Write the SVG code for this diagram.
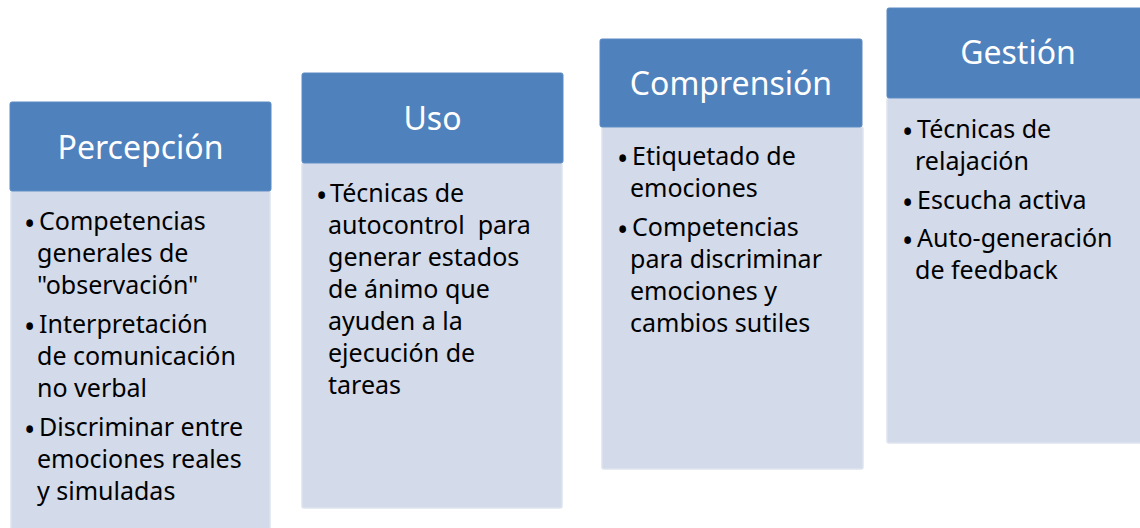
<svg xmlns="http://www.w3.org/2000/svg" width="1140" height="528" viewBox="0 0 1140 528">
<style>
.hdr{fill:#4F81BD;stroke:#5A8AC3;stroke-width:1}
.body{fill:#D3DAE9;stroke:#DEE3EE;stroke-width:1.5}
.ttl{font-family:"Noto Sans","Open Sans",sans-serif;font-size:32px;fill:#FFFFFF;text-anchor:middle}
.txt{font-family:"Noto Sans","Open Sans",sans-serif;font-size:25px;fill:#000000}
.b{font-size:30px}
</style>
<rect width="1140" height="528" fill="#FFFFFF"/>
<g id="percepcion">
<rect class="body" x="11" y="191" width="259" height="350" rx="2"/>
<rect class="hdr" x="10" y="102" width="261" height="89" rx="2"/>
<text class="ttl" x="140.5" y="159">Percepción</text>
<text class="txt" y="230"><tspan class="b" x="24" dy="5">•</tspan><tspan x="39" dy="-5">Competencias</tspan></text>
<text class="txt" x="37" y="262">generales de</text>
<text class="txt" x="37" y="294">"observación"</text>
<text class="txt" y="333"><tspan class="b" x="24" dy="5">•</tspan><tspan x="39" dy="-5">Interpretación</tspan></text>
<text class="txt" x="37" y="365">de comunicación</text>
<text class="txt" x="37" y="397">no verbal</text>
<text class="txt" y="436"><tspan class="b" x="24" dy="5">•</tspan><tspan x="39" dy="-5">Discriminar entre</tspan></text>
<text class="txt" x="37" y="468">emociones reales</text>
<text class="txt" x="37" y="500">y simuladas</text>
</g>
<g id="uso">
<rect class="body" x="302" y="163" width="260" height="345" rx="2"/>
<rect class="hdr" x="302" y="73" width="261" height="90" rx="2"/>
<text class="ttl" x="432.5" y="130">Uso</text>
<text class="txt" y="202"><tspan class="b" x="316" dy="5">•</tspan><tspan x="330" dy="-5">Técnicas de</tspan></text>
<text class="txt" x="328" y="234" xml:space="preserve">autocontrol  para</text>
<text class="txt" x="328" y="266">generar estados</text>
<text class="txt" x="328" y="298">de ánimo que</text>
<text class="txt" x="328" y="330">ayuden a la</text>
<text class="txt" x="328" y="362">ejecución de</text>
<text class="txt" x="328" y="394">tareas</text>
</g>
<g id="comprension">
<rect class="body" x="602" y="127" width="261" height="342" rx="2"/>
<rect class="hdr" x="600" y="39" width="262" height="88" rx="2"/>
<text class="ttl" x="731" y="95">Comprensión</text>
<text class="txt" y="165"><tspan class="b" x="617" dy="5">•</tspan><tspan x="632" dy="-5">Etiquetado de</tspan></text>
<text class="txt" x="630" y="197">emociones</text>
<text class="txt" y="236"><tspan class="b" x="617" dy="5">•</tspan><tspan x="632" dy="-5">Competencias</tspan></text>
<text class="txt" x="630" y="268">para discriminar</text>
<text class="txt" x="630" y="300">emociones y</text>
<text class="txt" x="630" y="332">cambios sutiles</text>
</g>
<g id="gestion">
<rect class="body" x="887" y="98" width="262" height="345" rx="2"/>
<rect class="hdr" x="887" y="8" width="262" height="90" rx="2"/>
<text class="ttl" x="1018" y="64">Gestión</text>
<text class="txt" y="138"><tspan class="b" x="902" dy="5">•</tspan><tspan x="917" dy="-5">Técnicas de</tspan></text>
<text class="txt" x="915" y="170">relajación</text>
<text class="txt" y="209"><tspan class="b" x="902" dy="5">•</tspan><tspan x="917" dy="-5">Escucha activa</tspan></text>
<text class="txt" y="247"><tspan class="b" x="902" dy="5">•</tspan><tspan x="917" dy="-5">Auto-generación</tspan></text>
<text class="txt" x="915" y="279">de feedback</text>
</g>
<g id="connectors"></g>
</svg>
